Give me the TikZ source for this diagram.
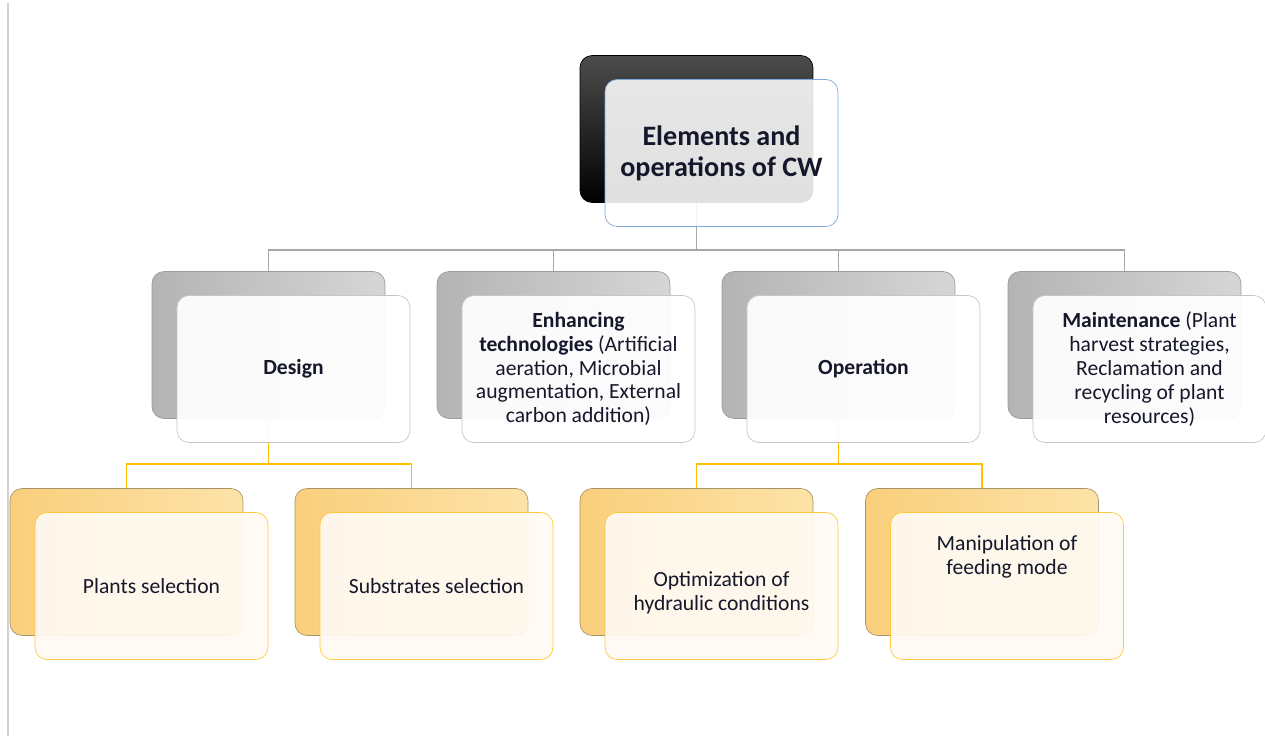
\documentclass[tikz,border=0pt]{standalone}
\usepackage{fontspec}
\setmainfont{Carlito}
\definecolor{rootline}{HTML}{7FA8DC}
\definecolor{greydark}{HTML}{B4B4B4}
\definecolor{greylight}{HTML}{D6D6D6}
\definecolor{greyedge}{HTML}{9C9C9C}
\definecolor{greyfront}{HTML}{C6C6C6}
\definecolor{orangeback}{HTML}{F9CF7C}
\definecolor{orangelight}{HTML}{FDE3A8}
\definecolor{orangeedge}{HTML}{A8946A}
\definecolor{orangefront}{HTML}{FFC93A}
\definecolor{orangeline}{HTML}{FFC000}
\definecolor{paleorange}{HTML}{FFFAF3}
\definecolor{txt}{HTML}{15172A}
\begin{document}
\begin{tikzpicture}[x=0.02cm,y=-0.02cm,
		box/.style={rounded corners=0.24cm,minimum width=4.66cm,minimum height=2.94cm,inner sep=2pt},
		rootback/.style={box,draw=black,top color=black!70,bottom color=black},
		rootfront/.style={box,draw=rootline,fill=white,fill opacity=0.88,text opacity=1,text=txt,font=\fontsize{16}{17.5}\selectfont\bfseries,align=center},
		greyback/.style={box,draw=greyedge,left color=greydark,right color=greylight},
		greyfront/.style={box,draw=greyfront,fill=white,fill opacity=0.93,text opacity=1,text=txt,font=\fontsize{12.3}{13.6}\selectfont,align=center},
		orangeback/.style={box,draw=orangeedge,left color=orangeback,right color=orangelight},
		orangefront/.style={box,draw=orangefront,fill=paleorange,fill opacity=0.92,text opacity=1,text=txt,font=\fontsize{12.3}{13.6}\selectfont,align=center},
		greyconn/.style={draw=gray!70,line width=0.8pt},
		orangeconn/.style={draw=orangeline,line width=0.8pt}]
	\useasboundingbox (0,0) rectangle (1265,736);
	\draw[gray!35,line width=0.8pt] (8,3) -- (8,736);

	% back boxes
	\node[rootback] (cw) at (696.5,129) {};
	\node[greyback] (des) at (268.5,345) {};
	\node[greyback] (enh) at (553.5,345) {};
	\node[greyback] (ope) at (838.5,345) {};
	\node[greyback] (mai) at (1124.5,345) {};
	\node[orangeback] (pla) at (126.5,562) {};
	\node[orangeback] (sub) at (411.5,562) {};
	\node[orangeback] (opt) at (696.5,562) {};
	\node[orangeback] (man) at (982,562) {};

	% connectors
	\foreach \c in {des,enh,ope,mai}
		\draw[greyconn] (cw.south) -- +(0,47) -| (\c.north);
	\foreach \c in {pla,sub}
		\draw[orangeconn] (des.south) -- +(0,45) -| (\c.north);
	\foreach \c in {opt,man}
		\draw[orangeconn] (ope.south) -- +(0,45) -| (\c.north);

	% front boxes
	\node[rootfront] (cwf) at ([shift={(25,24)}]cw.center) {Elements and\\operations of CW};
	\node[greyfront] (desf) at ([shift={(25,24)}]des.center) {\textbf{Design}};
	\node[greyfront] (enhf) at ([shift={(25,24)}]enh.center) {\textbf{Enhancing}\\\textbf{technologies} (Artificial\\aeration, Microbial\\augmentation, External\\carbon addition)};
	\node[greyfront] (opef) at ([shift={(25,24)}]ope.center) {\textbf{Operation}};
	\node[greyfront] (maif) at ([shift={(25,24)}]mai.center) {\textbf{Maintenance} (Plant\\harvest strategies,\\Reclamation and\\recycling of plant\\resources)};
	\node[orangefront] (plaf) at ([shift={(25,24)}]pla.center) {Plants selection};
	\node[orangefront] (subf) at ([shift={(25,24)}]sub.center) {Substrates selection};
	\node[orangefront] (optf) at ([shift={(25,24)}]opt.center) {};
	\node[text=txt,font=\fontsize{12.3}{13.6}\selectfont,align=center] (optt) at ([yshift=-0.14cm]optf.center) {Optimization of\\hydraulic conditions};
	\node[orangefront] (manf) at ([shift={(25,24)}]man.center) {};
	\node[text=txt,font=\fontsize{12.3}{13.6}\selectfont,align=center,anchor=north] (mant) at ([yshift=-0.34cm]manf.north) {Manipulation of\\feeding mode};
\end{tikzpicture}
\end{document}
